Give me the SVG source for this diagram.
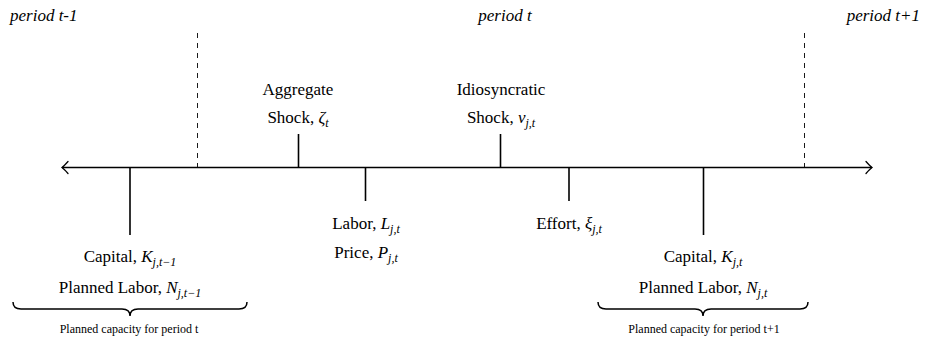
<svg xmlns="http://www.w3.org/2000/svg" width="927" height="339" viewBox="0 0 927 339">
<style>
text{font-family:"Liberation Serif","DejaVu Serif",serif;fill:#000;}
.lbl{font-size:17px;text-anchor:middle;}
.per{font-size:17px;font-style:italic;}
.small{font-size:12px;text-anchor:middle;}
.m{font-style:italic;}
.sub{font-size:12px;font-style:italic;}
.tick{stroke:#000;stroke-width:1.6;fill:none;}
.axis{stroke:#000;stroke-width:1.3;fill:none;}
.dash{stroke:#000;stroke-width:0.9;stroke-dasharray:5,5;fill:none;}
.brace{stroke:#000;stroke-width:1.5;fill:none;}
.head{stroke:#000;stroke-width:1.3;fill:none;stroke-linecap:round;}
</style>
<rect width="927" height="339" fill="#fff"/>
<g id="periods">
<text class="per" x="10" y="21">period t-1</text>
<text class="per" x="505" y="21" text-anchor="middle">period t</text>
<text class="per" x="920" y="21" text-anchor="end">period t+1</text>
</g>
<g id="connectors">
<line class="axis" x1="62" y1="167.5" x2="872" y2="167.5"/>
<path class="head" d="M68,161.5 Q64,166 62,167.5 Q64,169 68,173.5"/>
<path class="head" d="M866,161.5 Q870,166 872,167.5 Q870,169 866,173.5"/>
<line class="dash" x1="197.5" y1="33" x2="197.5" y2="167"/>
<line class="dash" x1="804.5" y1="33" x2="804.5" y2="167"/>
<line class="tick" x1="130" y1="167" x2="130" y2="235"/>
<line class="tick" x1="298.5" y1="134" x2="298.5" y2="167"/>
<line class="tick" x1="365.5" y1="167" x2="365.5" y2="201"/>
<line class="tick" x1="500.5" y1="134" x2="500.5" y2="167"/>
<line class="tick" x1="569" y1="167" x2="569" y2="201"/>
<line class="tick" x1="703.5" y1="167" x2="703.5" y2="235"/>
</g>
<g id="aggregate">
<text class="lbl" x="298" y="95">Aggregate</text>
<text class="lbl" x="298" y="123">Shock, <tspan class="m">ζ</tspan><tspan class="sub" dy="4">t</tspan></text>
</g>
<g id="idiosyncratic">
<text class="lbl" x="501" y="95">Idiosyncratic</text>
<text class="lbl" x="501" y="123">Shock, <tspan class="m">ν</tspan><tspan class="sub" dy="4">j,t</tspan></text>
</g>
<g id="labor">
<text class="lbl" x="366" y="229">Labor, <tspan class="m">L</tspan><tspan class="sub" dy="4">j,t</tspan></text>
<text class="lbl" x="366" y="258">Price, <tspan class="m">P</tspan><tspan class="sub" dy="4">j,t</tspan></text>
</g>
<g id="effort">
<text class="lbl" x="569" y="229">Effort, <tspan class="m">ξ</tspan><tspan class="sub" dy="4">j,t</tspan></text>
</g>
<g id="capital-prev">
<text class="lbl" x="130" y="262">Capital, <tspan class="m">K</tspan><tspan class="sub" dy="4">j,t−1</tspan></text>
<text class="lbl" x="130" y="293">Planned Labor, <tspan class="m">N</tspan><tspan class="sub" dy="4">j,t−1</tspan></text>
<path class="brace" d="M13,302 Q13,309 21,309 L122,309 Q130,309 130,316 Q130,309 138,309 L239,309 Q247,309 247,302"/>
<text class="small" x="129" y="333">Planned capacity for period t</text>
</g>
<g id="capital-curr">
<text class="lbl" x="703" y="262">Capital, <tspan class="m">K</tspan><tspan class="sub" dy="4">j,t</tspan></text>
<text class="lbl" x="703" y="293">Planned Labor, <tspan class="m">N</tspan><tspan class="sub" dy="4">j,t</tspan></text>
<path class="brace" d="M598,302 Q598,309 606,309 L695,309 Q703,309 703,316 Q703,309 711,309 L800,309 Q808,309 808,302"/>
<text class="small" x="704" y="333">Planned capacity for period t+1</text>
</g>
</svg>
